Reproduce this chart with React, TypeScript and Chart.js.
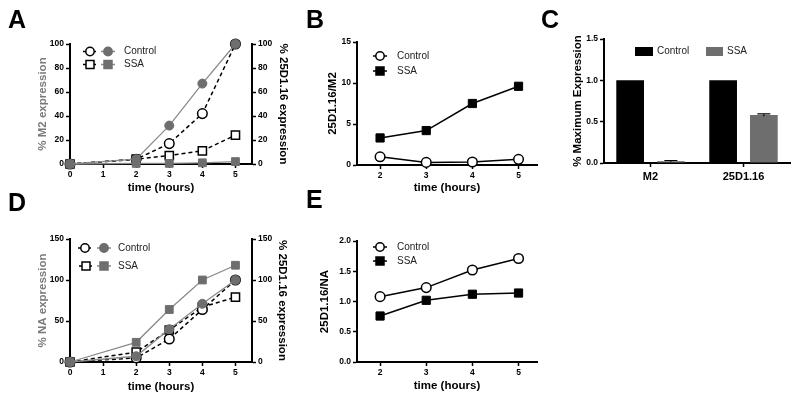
import React, { useEffect, useRef } from "react";
import { Chart, registerables } from "chart.js";
Chart.register(...registerables);

const FONT = "'Liberation Sans', Arial, Helvetica, sans-serif";
const GRAY_LINE = "#8a8a8a";
const GRAY_MARK = "#6e6e6e";
const GRAY_TITLE = "#7a7a7a";

// ---- Panel A ----
const timeAD = [0, 2, 3, 4, 5];
const timeTicksAD = [0, 1, 2, 3, 4, 5];
const aControlM2 = [0, 4, 32, 67, 100];
const aSsaM2 = [0, 0.5, 0.5, 1, 2];
const aControl25D = [0, 4, 17, 42, 100];
const aSsa25D = [0, 4, 7, 11, 24];
const aTicks = [0, 20, 40, 60, 80, 100];

// ---- Panel B ----
const timeBE = [2, 3, 4, 5];
const bControl = [1.0, 0.32, 0.36, 0.69];
const bSsa = [3.3, 4.2, 7.5, 9.6];
const bTicks = [0, 5, 10, 15];

// ---- Panel C ----
const cCategories = ["M2", "25D1.16"];
const cControl = [1.0, 1.0];
const cSsa = [0.022, 0.58];
const cSsaErr = [0.008, 0.015];
const cTicks = [0, 0.5, 1.0, 1.5];

// ---- Panel D ----
const dControlNA = [0, 7, 40, 71, 100];
const dSsaNA = [0, 24, 64, 100, 118];
const dControl25D = [0, 5, 28, 64, 100];
const dSsa25D = [0, 12, 39, 67, 79];
const dTicks = [0, 50, 100, 150];

// ---- Panel E ----
const eControl = [1.08, 1.23, 1.52, 1.71];
const eSsa = [0.76, 1.02, 1.12, 1.14];
const eTicks = [0, 0.5, 1.0, 1.5, 2.0];

const pts = (xs: number[], ys: number[]) => xs.map((x, i) => ({ x, y: ys[i] }));

const tickFont = { family: FONT, size: 8.5, weight: "bold" as const };
const titleFont = { family: FONT, size: 11.5, weight: "bold" as const };

function yScale(p: any) {
  return {
    type: "linear",
    position: p.position,
    min: p.min,
    max: p.max,
    afterBuildTicks: (s: any) => {
      s.ticks = p.ticks.map((v: number) => ({ value: v }));
    },
    afterFit: (s: any) => {
      s.width = p.width;
    },
    border: { display: true, color: "#000", width: 2 },
    grid: {
      display: true,
      drawOnChartArea: false,
      drawTicks: true,
      tickLength: 4,
      tickWidth: 1.5,
      tickColor: "#000",
    },
    ticks: {
      color: "#000",
      font: tickFont,
      padding: 2,
      callback: (v: any) => (p.decimals ? Number(v).toFixed(p.decimals) : String(v)),
    },
    title: {
      display: true,
      text: p.title,
      color: p.titleColor || "#000",
      font: titleFont,
      padding: { top: p.titlePad, bottom: 0 },
    },
  };
}

function xScale(p: any) {
  return {
    type: "linear",
    min: p.min,
    max: p.max,
    afterBuildTicks: (s: any) => {
      s.ticks = p.ticks.map((v: number) => ({ value: v }));
    },
    afterFit: (s: any) => {
      s.height = p.height;
    },
    border: { display: true, color: "#000", width: 2 },
    grid: {
      display: true,
      drawOnChartArea: false,
      drawTicks: true,
      tickLength: 4,
      tickWidth: 1.5,
      tickColor: "#000",
    },
    ticks: { color: "#000", font: tickFont, padding: 2, maxRotation: 0, autoSkip: false },
    title: {
      display: true,
      text: "time (hours)",
      color: "#000",
      font: titleFont,
      padding: { top: 0, bottom: p.titlePad },
    },
  };
}

function drawMarker(ctx: CanvasRenderingContext2D, shape: string, x: number, y: number, fill: string, stroke: string, r: number) {
  ctx.save();
  ctx.setLineDash([]);
  ctx.beginPath();
  if (shape === "circle") ctx.arc(x, y, r, 0, Math.PI * 2);
  else ctx.rect(x - r, y - r, 2 * r, 2 * r);
  ctx.fillStyle = fill;
  ctx.fill();
  ctx.lineWidth = 1.5;
  ctx.strokeStyle = stroke;
  ctx.stroke();
  ctx.restore();
}

function lineLegend(rows: any[]) {
  return {
    id: "lineLegend",
    afterDraw(chart: any) {
      const ctx: CanvasRenderingContext2D = chart.ctx;
      rows.forEach((row) => {
        row.markers.forEach((m: any) => {
          ctx.save();
          ctx.beginPath();
          ctx.setLineDash(m.dash || []);
          ctx.strokeStyle = m.lineColor;
          ctx.lineWidth = 1.5;
          ctx.moveTo(m.x - 7, row.y);
          ctx.lineTo(m.x + 7, row.y);
          ctx.stroke();
          ctx.restore();
          drawMarker(ctx, m.shape, m.x, row.y, m.fill, m.stroke, m.shape === "circle" ? 4.2 : 4);
        });
        ctx.save();
        ctx.fillStyle = "#222";
        ctx.font = `10px ${FONT}`;
        ctx.textBaseline = "middle";
        ctx.textAlign = "left";
        ctx.fillText(row.text, row.textX, row.y);
        ctx.restore();
      });
    },
  };
}

const openCircle = { shape: "circle", fill: "#fff", stroke: "#000", lineColor: "#000" };
const openSquare = { shape: "rect", fill: "#fff", stroke: "#000", lineColor: "#000" };
const grayCircle = { shape: "circle", fill: GRAY_MARK, stroke: GRAY_MARK, lineColor: GRAY_LINE };
const graySquare = { shape: "rect", fill: GRAY_MARK, stroke: GRAY_MARK, lineColor: GRAY_LINE };
const blackSquare = { shape: "rect", fill: "#000", stroke: "#000", lineColor: "#000" };

function grayDs(xs: number[], ys: number[], style: string, axis: string) {
  return {
    data: pts(xs, ys),
    borderColor: GRAY_LINE,
    borderWidth: 1.3,
    pointStyle: style,
    pointRadius: style === "circle" ? 4.5 : 5.5,
    pointBackgroundColor: GRAY_MARK,
    pointBorderColor: GRAY_MARK,
    pointBorderWidth: 1,
    yAxisID: axis,
    clip: false,
  };
}

function openDs(xs: number[], ys: number[], style: string, axis: string, dashed: boolean) {
  return {
    data: pts(xs, ys),
    borderColor: "#000",
    borderWidth: 1.5,
    borderDash: dashed ? [4, 3] : [],
    pointStyle: style,
    pointRadius: style === "circle" ? 4.8 : 5.8,
    pointBackgroundColor: "#fff",
    pointBorderColor: "#000",
    pointBorderWidth: 1.5,
    yAxisID: axis,
    clip: false,
  };
}

function filledDs(xs: number[], ys: number[], axis: string) {
  return {
    data: pts(xs, ys),
    borderColor: "#000",
    borderWidth: 1.5,
    pointStyle: "rect",
    pointRadius: 5.8,
    pointBackgroundColor: "#000",
    pointBorderColor: "#000",
    pointBorderWidth: 1,
    yAxisID: axis,
    clip: false,
  };
}

const baseOpts = (padding: any) => ({
  animation: false,
  responsive: false,
  maintainAspectRatio: false,
  layout: { padding },
  plugins: { legend: { display: false }, tooltip: { enabled: false } },
});

function configA(): any {
  return {
    type: "line",
    data: {
      datasets: [
        grayDs(timeAD, aSsaM2, "rect", "y"),
        grayDs(timeAD, aControlM2, "circle", "y"),
        openDs(timeAD, aControl25D, "circle", "y2", true),
        openDs(timeAD, aSsa25D, "rect", "y2", true),
      ],
    },
    options: {
      ...baseOpts({ top: 44, left: 0, right: 0, bottom: 0 }),
      scales: {
        x: xScale({ min: 0, max: 5.5, ticks: timeTicksAD, height: 36, titlePad: 5 }),
        y: yScale({ position: "left", min: 0, max: 100, ticks: aTicks, width: 70, title: "% M2 expression", titleColor: GRAY_TITLE, titlePad: 36 }),
        y2: yScale({ position: "right", min: 0, max: 100, ticks: aTicks, width: 48, title: "% 25D1.16 expression", titlePad: 10 }),
      },
    },
    plugins: [
      lineLegend([
        { y: 51.5, text: "Control", textX: 124, markers: [{ ...openCircle, x: 90, dash: [3, 2] }, { ...grayCircle, x: 108 }] },
        { y: 64.5, text: "SSA", textX: 124, markers: [{ ...openSquare, x: 90, dash: [3, 2] }, { ...graySquare, x: 108 }] },
      ]),
    ],
  };
}

function configB(): any {
  return {
    type: "line",
    data: {
      datasets: [openDs(timeBE, bControl, "circle", "y", false), filledDs(timeBE, bSsa, "y")],
    },
    options: {
      ...baseOpts({ top: 42, left: 0, right: 13, bottom: 0 }),
      scales: {
        x: xScale({ min: 1.5, max: 5.4, ticks: timeBE, height: 35, titlePad: 5 }),
        y: yScale({ position: "left", min: 0, max: 15, ticks: bTicks, width: 57, title: "25D1.16/M2", titlePad: 26 }),
      },
    },
    plugins: [
      lineLegend([
        { y: 56, text: "Control", textX: 97, markers: [{ ...openCircle, x: 80 }] },
        { y: 71, text: "SSA", textX: 97, markers: [{ ...blackSquare, x: 80 }] },
      ]),
    ],
  };
}

function configC(): any {
  const errorBars = {
    id: "errorBars",
    afterDatasetsDraw(chart: any) {
      const ctx: CanvasRenderingContext2D = chart.ctx;
      const meta = chart.getDatasetMeta(1);
      const ys = chart.scales.y;
      meta.data.forEach((bar: any, i: number) => {
        const top = ys.getPixelForValue(cSsa[i] + cSsaErr[i]);
        const bot = ys.getPixelForValue(cSsa[i] - cSsaErr[i]);
        ctx.save();
        ctx.strokeStyle = "#000";
        ctx.lineWidth = 1.2;
        ctx.beginPath();
        ctx.moveTo(bar.x, bot);
        ctx.lineTo(bar.x, top);
        ctx.moveTo(bar.x - 6.5, top);
        ctx.lineTo(bar.x + 6.5, top);
        ctx.stroke();
        ctx.restore();
      });
      // legend
      ctx.save();
      ctx.fillStyle = "#000";
      ctx.fillRect(85, 47, 18, 9);
      ctx.fillStyle = GRAY_MARK;
      ctx.fillRect(156, 47, 17, 9);
      ctx.fillStyle = "#222";
      ctx.font = `10px ${FONT}`;
      ctx.textBaseline = "middle";
      ctx.fillText("Control", 107, 51.5);
      ctx.fillText("SSA", 177, 51.5);
      ctx.restore();
    },
  };
  return {
    type: "bar",
    data: {
      labels: cCategories,
      datasets: [
        { data: cControl, backgroundColor: "#000", categoryPercentage: 0.876, barPercentage: 0.68 },
        { data: cSsa, backgroundColor: GRAY_MARK, categoryPercentage: 0.876, barPercentage: 0.68 },
      ],
    },
    options: {
      ...baseOpts({ top: 39, left: 0, right: 10, bottom: 0 }),
      scales: {
        x: {
          type: "category",
          offset: true,
          afterFit: (s: any) => {
            s.height = 37;
          },
          border: { display: true, color: "#000", width: 2 },
          grid: { display: true, offset: false, drawOnChartArea: false, drawTicks: true, tickLength: 4, tickWidth: 1.5, tickColor: "#000" },
          ticks: { color: "#000", font: { family: FONT, size: 11, weight: "bold" }, padding: 3, maxRotation: 0 },
        },
        y: yScale({ position: "left", min: 0, max: 1.5, ticks: cTicks, width: 54, title: "% Maximum Expression", titlePad: 21, decimals: 1 }),
      },
    },
    plugins: [errorBars],
  };
}

function configD(): any {
  return {
    type: "line",
    data: {
      datasets: [
        grayDs(timeAD, dControlNA, "circle", "y"),
        grayDs(timeAD, dSsaNA, "rect", "y"),
        openDs(timeAD, dControl25D, "circle", "y2", true),
        openDs(timeAD, dSsa25D, "rect", "y2", true),
      ],
    },
    options: {
      ...baseOpts({ top: 39, left: 0, right: 0, bottom: 0 }),
      scales: {
        x: xScale({ min: 0, max: 5.5, ticks: timeTicksAD, height: 40, titlePad: 8.5 }),
        y: yScale({ position: "left", min: 0, max: 150, ticks: dTicks, width: 70, title: "% NA expression", titleColor: GRAY_TITLE, titlePad: 36 }),
        y2: yScale({ position: "right", min: 0, max: 150, ticks: dTicks, width: 48, title: "% 25D1.16 expression", titlePad: 11 }),
      },
    },
    plugins: [
      lineLegend([
        { y: 48, text: "Control", textX: 118, markers: [{ ...openCircle, x: 85, dash: [3, 2] }, { ...grayCircle, x: 104 }] },
        { y: 66, text: "SSA", textX: 118, markers: [{ ...openSquare, x: 86, dash: [3, 2] }, { ...graySquare, x: 104 }] },
      ]),
    ],
  };
}

function configE(): any {
  return {
    type: "line",
    data: {
      datasets: [openDs(timeBE, eControl, "circle", "y", false), filledDs(timeBE, eSsa, "y")],
    },
    options: {
      ...baseOpts({ top: 41, left: 0, right: 13, bottom: 0 }),
      scales: {
        x: xScale({ min: 1.5, max: 5.4, ticks: timeBE, height: 40, titlePad: 9 }),
        y: yScale({ position: "left", min: 0, max: 2, ticks: eTicks, width: 57, title: "25D1.16/NA", titlePad: 18, decimals: 1 }),
      },
    },
    plugins: [
      lineLegend([
        { y: 47, text: "Control", textX: 97, markers: [{ ...openCircle, x: 80 }] },
        { y: 61, text: "SSA", textX: 97, markers: [{ ...blackSquare, x: 80 }] },
      ]),
    ],
  };
}

function Panel(props: { left: number; top: number; width: number; height: number; build: () => any }) {
  const ref = useRef<HTMLCanvasElement | null>(null);
  useEffect(() => {
    if (!ref.current) return;
    const chart = new Chart(ref.current, props.build());
    return () => chart.destroy();
  }, []);
  return (
    <canvas
      ref={ref}
      width={props.width}
      height={props.height}
      style={{ position: "absolute", left: props.left, top: props.top, width: props.width, height: props.height }}
    />
  );
}

const letterStyle = (left: number, top: number): React.CSSProperties => ({
  position: "absolute",
  left,
  top,
  fontFamily: FONT,
  fontWeight: "bold",
  fontSize: 25,
  lineHeight: "25px",
  color: "#000",
});

export default function App() {
  return (
    <div style={{ position: "absolute", left: 0, top: 0, width: 800, height: 402, background: "#fff", overflow: "hidden" }}>
      <Panel left={0} top={0} width={300} height={200} build={configA} />
      <Panel left={300} top={0} width={250} height={200} build={configB} />
      <Panel left={550} top={0} width={250} height={200} build={configC} />
      <Panel left={0} top={200} width={300} height={202} build={configD} />
      <Panel left={300} top={200} width={250} height={202} build={configE} />
      <div style={letterStyle(8, 7)}>A</div>
      <div style={letterStyle(306, 7)}>B</div>
      <div style={letterStyle(541, 7)}>C</div>
      <div style={letterStyle(8, 190)}>D</div>
      <div style={letterStyle(306, 187)}>E</div>
    </div>
  );
}
